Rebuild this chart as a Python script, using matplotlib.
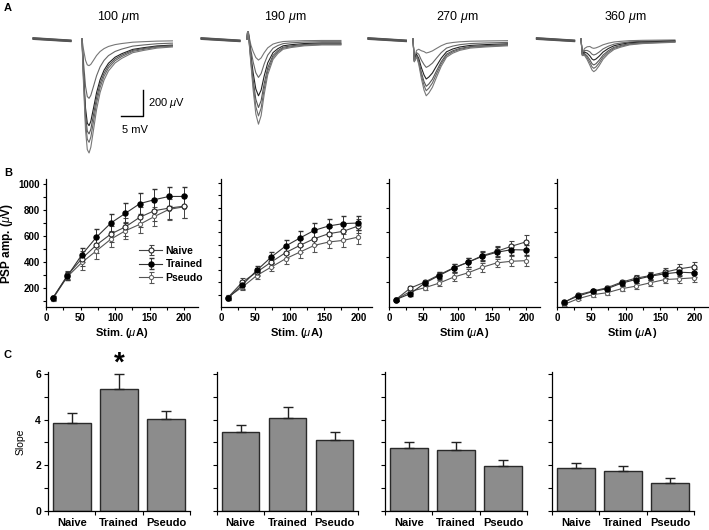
import numpy as np
import matplotlib
matplotlib.use('Agg')
import matplotlib.pyplot as plt
from matplotlib.ticker import MultipleLocator

plt.rcParams['font.family'] = ['Liberation Sans', 'DejaVu Sans']
plt.rcParams['mathtext.fontset'] = 'custom'
plt.rcParams['mathtext.rm'] = 'Liberation Sans'
plt.rcParams['mathtext.it'] = 'Liberation Sans:italic'
plt.rcParams['mathtext.bf'] = 'Liberation Sans:bold'
plt.rcParams['axes.linewidth'] = 0.9

# ---------------- panel A: example PSP traces ----------------
site_titles = ['100 $\\mu$m', '190 $\\mu$m', '270 $\\mu$m', '360 $\\mu$m']

# waveform key points (time in ms after stim,
# shape = fraction of peak deflection, fixed = volley/artifact in uV)
t100 = [0, 0.3, 0.8, 1.2, 1.6, 2.0, 2.6, 3.3, 4.1, 5.0, 6.0, 7.5, 9.0, 11.5, 14, 17, 20.5]
shape100 = [0, 0.35, 0.8, 0.97, 1.0, 0.95, 0.8, 0.62, 0.47, 0.36, 0.28, 0.21, 0.17, 0.12, 0.1, 0.08, 0.07]
fixed100 = [0] * 17
amps100 = [200, 445, 650, 712, 775, 855]

t190 = [0, 0.2, 0.5, 0.9, 1.4, 2.0, 2.6, 3.2, 3.9, 4.7, 5.9, 7.0, 8.2, 10, 13, 17, 21.3]
shape190 = [0, 0, 0.1, 0.3, 0.6, 0.88, 1.0, 0.9, 0.65, 0.42, 0.24, 0.17, 0.12, 0.1, 0.08, 0.07, 0.07]
fixed190 = [0, 80, 30, 0, 0, 0, 0, 0, 0, 0, 0, 0, 0, 0, 0, 0, 0]
amps190 = [158, 288, 426, 514, 577, 639]

t270 = [0, 0.3, 0.8, 1.3, 1.9, 2.5, 3.0, 3.6, 4.4, 5.3, 6.4, 7.6, 9, 10.6, 13, 16.5, 21.5]
shape270 = [0, 0.05, 0.15, 0.35, 0.65, 0.9, 1.0, 0.95, 0.85, 0.68, 0.48, 0.32, 0.25, 0.2, 0.16, 0.14, 0.12]
fixed270 = [0, -150, -70, -40, -20, 0, 0, 0, 0, 0, 0, 0, 0, 0, 0, 0, 0]
amps270 = [105, 213, 300, 355, 388, 426]

t360 = [0, 0.3, 0.8, 1.4, 2.0, 2.5, 2.9, 3.4, 4.1, 5.0, 6.2, 7.5, 9, 11, 14, 17.5, 21.3]
shape360 = [0, 0.1, 0.3, 0.55, 0.8, 0.95, 1.0, 0.95, 0.82, 0.62, 0.45, 0.32, 0.25, 0.18, 0.14, 0.12, 0.1]
fixed360 = [0, -100, -50, -20, 0, 0, 0, 0, 0, 0, 0, 0, 0, 0, 0, 0, 0]
amps360 = [70, 120, 158, 195, 220, 245]

# pre-stimulus baseline window (ms) and levels (uV) of the 6 sweeps
base_win = [(-11.1, -2.5), (-10.4, -1.6), (-10.2, -1.5), (-10.1, -1.45)]
base_start = [8, 0, 5, -3, 3, 10]
base_end = [-10, -18, -12, -20, -15, -8]
trace_colors = ['#777777', '#666666', '#222222', '#555555', '#666666', '#777777']

# ---------------- panel B: input/output curves ----------------
stim = [10, 31, 52, 73, 94, 115, 136, 157, 178, 200]

naive_amp = [
    [120, 295, 425, 530, 615, 670, 745, 795, 815, 830],
    [75, 200, 280, 361, 437, 496, 550, 590, 609, 652],
    [60, 152, 200, 259, 315, 360, 413, 448, 488, 525],
    [35, 99, 128, 155, 200, 232, 253, 280, 307, 325],
]
naive_err = [
    [15, 30, 55, 60, 65, 70, 75, 80, 85, 90],
    [15, 30, 30, 40, 45, 50, 55, 55, 60, 60],
    [10, 15, 20, 25, 30, 35, 35, 40, 45, 55],
    [8, 12, 15, 18, 20, 25, 28, 30, 35, 40],
]
trained_amp = [
    [120, 290, 455, 590, 700, 775, 850, 880, 905, 905],
    [70, 178, 294, 401, 490, 555, 617, 652, 671, 676],
    [60, 107, 192, 253, 312, 360, 408, 440, 461, 459],
    [40, 88, 125, 147, 192, 221, 248, 267, 280, 275],
]
trained_err = [
    [15, 30, 55, 65, 72, 77, 80, 82, 75, 70],
    [15, 30, 35, 45, 50, 55, 62, 60, 62, 55],
    [10, 15, 20, 25, 30, 35, 35, 40, 40, 40],
    [8, 12, 15, 18, 20, 25, 28, 30, 30, 30],
]
pseudo_amp = [
    [115, 285, 395, 485, 575, 640, 690, 750, 805, 825],
    [80, 160, 253, 321, 388, 442, 496, 523, 536, 563],
    [60, 125, 155, 192, 240, 275, 320, 355, 368, 373],
    [20, 67, 99, 115, 147, 168, 195, 221, 227, 235],
]
pseudo_err = [
    [15, 30, 55, 60, 62, 65, 70, 72, 80, 85],
    [15, 25, 30, 35, 40, 45, 50, 50, 50, 55],
    [10, 15, 20, 25, 30, 30, 35, 35, 40, 40],
    [8, 12, 15, 18, 20, 22, 25, 28, 30, 30],
]
stim_labels = ['Stim. ($\\mu$A)', 'Stim. ($\\mu$A)', 'Stim ($\\mu$A)', 'Stim ($\\mu$A)']

# ---------------- panel C: slopes ----------------
groups = ['Naive', 'Trained', 'Pseudo']
slope_mean = [
    [3.85, 5.35, 4.02],
    [3.45, 4.05, 3.12],
    [2.75, 2.65, 1.99],
    [1.88, 1.73, 1.22],
]
slope_sem = [
    [0.42, 0.64, 0.36],
    [0.30, 0.49, 0.34],
    [0.28, 0.35, 0.26],
    [0.20, 0.26, 0.21],
]

W, H = 709, 530
fig = plt.figure(figsize=(W / 100, H / 100), dpi=100)


def px_axes(l, t, r, b):
    # axes from pixel box (left, top, right, bottom)
    return fig.add_axes([l / W, 1 - b / H, (r - l) / W, (b - t) / H])


# ---- A ----
PX_MS = 4.41
PX_UV = 0.1333
onset_px = [82, 247, 413, 581]
a_xlim = (-11.5, 21.5)
a_ylim = (-900, 60)
base_px = 39
traces = [(t100, shape100, fixed100, amps100), (t190, shape190, fixed190, amps190),
          (t270, shape270, fixed270, amps270), (t360, shape360, fixed360, amps360)]
title_x = [118, 285, 457, 625]

for k in range(4):
    l = onset_px[k] + a_xlim[0] * PX_MS
    r = onset_px[k] + a_xlim[1] * PX_MS
    t = base_px - a_ylim[1] * PX_UV
    b = base_px - a_ylim[0] * PX_UV
    ax = px_axes(l, t, r, b)
    ax.set_xlim(a_xlim)
    ax.set_ylim(a_ylim)
    ax.axis('off')
    tt, shp, fix, amps = traces[k]
    shp = np.array(shp)
    fix = np.array(fix)
    for i, a in enumerate(amps):
        ax.plot(base_win[k], [base_start[i], base_end[i]], color='#555555', lw=0.8)
        ax.plot(tt, fix - a * shp, color=trace_colors[i], lw=0.8)
    fig.text(title_x[k] / W, 1 - 17 / H, site_titles[k], ha='center', va='center', fontsize=9)
    if k == 0:
        # scale bar: 5 ms x 200 uV
        ax.plot([8.8, 13.8, 13.8], [-579, -579, -379], color='black', lw=1.0)
        ax.text(15.0, -480, '200 $\\mu$V', fontsize=8, va='center', ha='left')
        ax.text(9.0, -680, '5 mV', fontsize=8, va='center', ha='left')

fig.text(4 / W, 1 - 8 / H, 'A', fontsize=8, fontweight='bold', va='center')

# ---- B ----
b_px = [(46, 198), (221, 372), (389, 540), (557, 708)]
b_top, b_bot = 179, 307
for k in range(4):
    ax = px_axes(b_px[k][0], b_top, b_px[k][1], b_bot)
    ax.errorbar(stim, pseudo_amp[k], yerr=pseudo_err[k], color='#555555', marker='o', ms=3,
                mfc='white', mec='#666666', mew=0.8, lw=0.8, elinewidth=0.7, capsize=1.8,
                label='Pseudo')
    ax.errorbar(stim, naive_amp[k], yerr=naive_err[k], color='#444444', marker='o', ms=3.6,
                mfc='white', mec='#222222', mew=0.8, lw=0.8, elinewidth=0.7, capsize=1.8,
                label='Naive')
    ax.errorbar(stim, trained_amp[k], yerr=trained_err[k], color='#333333', marker='o', ms=3.6,
                mfc='black', mec='black', lw=0.8, elinewidth=0.7, capsize=1.8,
                label='Trained')
    ax.set_xlim(0, 220)
    ax.spines['top'].set_visible(False)
    ax.spines['right'].set_visible(False)
    ax.xaxis.set_minor_locator(MultipleLocator(25))
    ax.set_xticks([0, 50, 100, 150, 200])
    ax.tick_params(axis='both', which='both', direction='out', length=2.5, width=0.8, labelsize=7, pad=2)
    for lab in ax.get_xticklabels():
        lab.set_fontweight('bold')
    ax.set_xlabel(stim_labels[k], fontsize=8, fontweight='bold', labelpad=2)
    if k == 0:
        ax.set_ylim(50, 1040)
        ax.yaxis.set_minor_locator(MultipleLocator(100))
        ax.set_yticks([200, 400, 600, 800, 1000])
        for lab in ax.get_yticklabels():
            lab.set_fontweight('bold')
        ax.set_ylabel('PSP amp. ($\\mu$V)', fontsize=8.5, fontweight='bold')
        ax.yaxis.set_label_coords(-31 / 152, 0.5)
        h, lb = ax.get_legend_handles_labels()
        order = [1, 2, 0]
        ax.legend([h[i] for i in order], [lb[i] for i in order], loc='upper left',
                  bbox_to_anchor=(0.58, 0.52), frameon=False,
                  handlelength=2.2, handletextpad=0.3, labelspacing=0.35, borderpad=0,
                  prop={'weight': 'bold', 'size': 7.5})
    else:
        ax.set_ylim(0, 1030)
        step = 100 if k == 1 else 200
        ax.set_yticks(np.arange(step, 1001, step))
        ax.set_yticklabels([])

fig.text(4 / W, 1 - 173 / H, 'B', fontsize=8, fontweight='bold', va='center')

# ---- C ----
c_px = [(48, 190), (217, 358), (385, 527), (552, 694)]
c_top, c_bot = 372, 511
pos = [0.5, 1.5, 2.5]
for k in range(4):
    ax = px_axes(c_px[k][0], c_top, c_px[k][1], c_bot)
    ax.bar(pos, slope_mean[k], width=0.8, color='#8c8c8c', edgecolor='#2a2a2a', lw=1.0,
           yerr=[[0, 0, 0], slope_sem[k]],
           error_kw=dict(ecolor='#222222', elinewidth=1.0, capsize=3.5, capthick=1.0))
    ax.set_xlim(0, 3)
    ax.set_ylim(0, 6.08)
    ax.spines['top'].set_visible(False)
    ax.spines['right'].set_visible(False)
    ax.set_xticks([0, 1, 2, 3])
    ax.set_xticklabels([])
    ax.set_xticks(pos, groups, minor=True)
    ax.tick_params(axis='x', which='major', direction='out', length=3, width=0.8)
    ax.tick_params(axis='x', which='minor', length=0, labelsize=8, pad=5)
    for lab in ax.get_xticklabels(minor=True):
        lab.set_fontweight('bold')
    ax.set_yticks([0, 1, 2, 3, 4, 5, 6])
    ax.tick_params(axis='y', direction='out', length=3, width=0.8, labelsize=7.5, pad=2)
    if k == 0:
        ax.set_yticklabels(['0', '', '2', '', '4', '', '6'], fontweight='bold')
        ax.set_ylabel('Slope', fontsize=7.5)
        ax.yaxis.set_label_coords(-22 / 142, 0.5)
        ax.text(1.5, 6.45, '*', ha='center', va='center', fontsize=20, fontweight='bold',
                clip_on=False)
    else:
        ax.set_yticklabels([])

fig.text(4 / W, 1 - 355 / H, 'C', fontsize=8, fontweight='bold', va='center')

fig.savefig('out.png', dpi=100)
